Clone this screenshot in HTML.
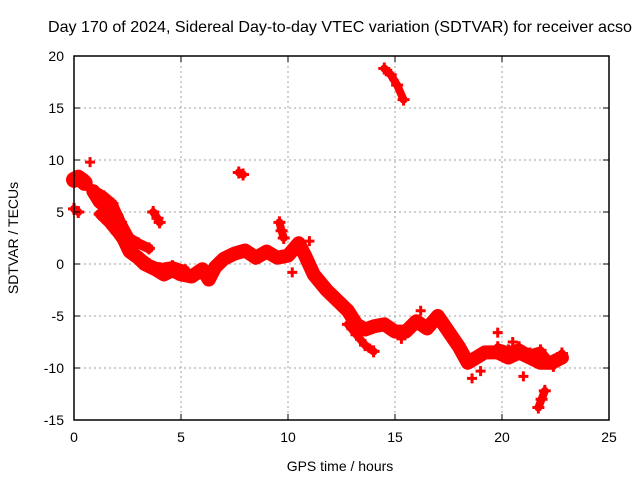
<!DOCTYPE html>
<html><head><meta charset="utf-8"><style>
body{margin:0;background:#fff;}
svg{display:block;font-family:"Liberation Sans",sans-serif;}
</style></head><body>
<svg id="chart" width="640" height="480">
<text x="340" y="32" text-anchor="middle" font-size="16" textLength="584" lengthAdjust="spacingAndGlyphs">Day 170 of 2024, Sidereal Day-to-day VTEC variation (SDTVAR) for receiver acso</text>
<text x="340" y="471" text-anchor="middle" font-size="14">GPS time / hours</text>
<text x="18" y="238" text-anchor="middle" font-size="14" transform="rotate(-90 18 238)">SDTVAR / TECUs</text>
<g id="grid"></g><g id="data"></g><g id="axes"></g>
</svg>
<script>
const xTicks=[0,5,10,15,20,25];
const yTicks=[-15,-10,-5,0,5,10,15,20];
const mainT=[0.9,1.2,1.5,1.8,2.0,2.3,2.6,3.0,3.3,3.8,4.2,4.6,5.0,5.5,6.0,6.3,6.6,7.0,7.5,8.0,8.5,9.0,9.5,10.0,10.5,10.8,11.2,11.8,12.3,12.8,13.2,13.6,14.0,14.5,15.0,15.5,16.0,16.5,17.0,17.5,18.0,18.4,18.8,19.2,19.8,20.3,20.8,21.3,21.8,22.3,22.8];
const mainV=[7.0,6.0,5.5,5.0,4.5,2.5,1.2,0.6,0.0,-0.5,-1.0,-0.6,-1.0,-1.2,-0.5,-1.5,-0.3,0.5,1.0,1.3,0.6,1.2,0.6,0.8,2.0,0.8,-1.0,-2.5,-3.5,-4.5,-5.8,-6.3,-6.0,-5.8,-6.5,-6.5,-5.5,-6.2,-5.0,-6.5,-8.0,-9.5,-9.0,-8.5,-8.5,-9.0,-8.5,-9.0,-9.5,-9.5,-9.0];
const branchT=[1.2,1.6,2.0,2.5,3.0,3.5,4.0,4.6,5.2];
const branchV=[4.8,4.0,3.0,1.6,0.8,0.0,-0.4,-0.2,-0.6];
const upperT=[1.0,1.4,1.8,2.2,2.6,3.0,3.5];
const upperV=[7.0,6.5,5.8,4.0,2.5,2.0,1.5];
const lowT=[12.8,13.2,13.6,14.0];
const lowV=[-5.8,-6.8,-7.8,-8.4];
const blobT=[[0.0,0.2,0.4,0.5],[0.0,0.2],[3.7,3.9,4.0],[7.7,7.9],[14.5,14.8,15.1,15.4],[21.7,21.85,22.0],[9.6,9.7,9.8],[19.8,20.3,20.8,21.3,21.8,22.4,22.8]];
const blobV=[[8.1,8.3,8.0,7.8],[5.3,5.0],[5.0,4.4,4.0],[8.8,8.6],[18.8,18.2,17.2,15.8],[-13.8,-13.0,-12.2],[4.0,3.2,2.5],[-8.0,-8.3,-8.0,-8.6,-8.3,-9.8,-8.6]];
const dotsT=[0.75,10.2,11.0,19.0,19.8,20.5,21.0,18.6,16.2,15.3];
const dotsV=[9.8,-0.8,2.2,-10.3,-6.6,-7.5,-10.8,-11.0,-4.5,-7.2];
const X=t=>74+t*(535/25), Y=v=>264-v*10.4;
const svg=document.getElementById('chart'),NS='http://www.w3.org/2000/svg';
function mk(tag,attrs,parent){const e=document.createElementNS(NS,tag);for(const k in attrs)e.setAttribute(k,attrs[k]);parent.appendChild(e);return e;}
const grid=document.getElementById('grid'),data=document.getElementById('data'),axes=document.getElementById('axes');
xTicks.forEach(t=>{if(t>0&&t<25){const l=mk('line',{x1:X(t),x2:X(t),y1:56,y2:420,stroke:'#a0a0a0','stroke-dasharray':'2,3'},grid);

}
mk('line',{x1:X(t),x2:X(t),y1:420,y2:414,stroke:'#000'},axes);mk('line',{x1:X(t),x2:X(t),y1:56,y2:62,stroke:'#000'},axes);
const tx=mk('text',{x:X(t),y:442,'text-anchor':'middle','font-size':14},axes);tx.textContent=t;

});
yTicks.forEach(v=>{if(v>-15&&v<20){const l=mk('line',{x1:74,x2:609,y1:Y(v),y2:Y(v),stroke:'#a0a0a0','stroke-dasharray':'2,3'},grid);

}
mk('line',{x1:74,x2:80,y1:Y(v),y2:Y(v),stroke:'#000'},axes);mk('line',{x1:603,x2:609,y1:Y(v),y2:Y(v),stroke:'#000'},axes);
const tx=mk('text',{x:64,y:Y(v)+5,'text-anchor':'end','font-size':14},axes);tx.textContent=v;

});
const fr=mk('rect',{x:74,y:56,width:535,height:364,fill:'none',stroke:'#000','stroke-width':1.5},axes);


function series(ts,vs,w,name){const pts=ts.map((t,i)=>X(t)+','+Y(vs[i])).join(' ');
const p=mk('polyline',{points:pts,fill:'none',stroke:'#ff0000','stroke-width':w,'stroke-linejoin':'round','stroke-linecap':'round'},data);


ts.forEach((t,i)=>{const c=mk('path',{d:`M${X(t)-6},${Y(vs[i])}h12M${X(t)},${Y(vs[i])-6}v12`,stroke:'#ff0000','stroke-width':3},data);

});}
series(mainT,mainV,14,'main-trace');
series(branchT,branchV,10,'branch-trace');
series(upperT,upperV,10,'upper-branch-trace');
series(lowT,lowV,8,'low-branch-trace');
blobT.forEach((ts,i)=>series(ts,blobV[i],i==0?16:8,'trace-fragment'));
dotsT.forEach((t,i)=>{const c=mk('path',{d:`M${X(t)-5},${Y(dotsV[i])}h10M${X(t)},${Y(dotsV[i])-5}v10`,stroke:'#ff0000','stroke-width':3},data);

});
</script>
</body></html>
